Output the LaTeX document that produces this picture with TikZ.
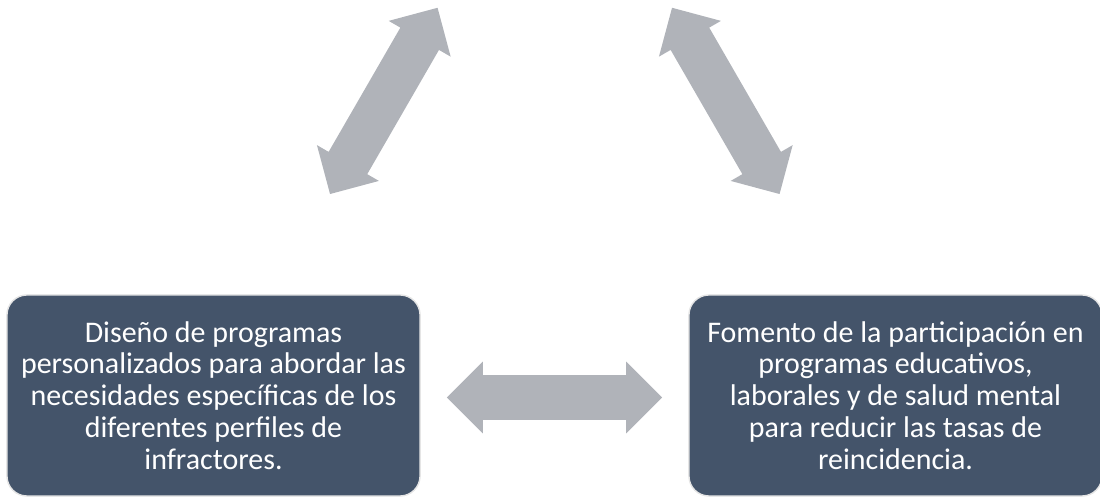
\documentclass[tikz,border=0pt]{standalone}
\usepackage{fontspec}
\setmainfont{Carlito}
\usetikzlibrary{shapes.arrows}
\definecolor{boxblue}{HTML}{44546A}
\definecolor{arrowgray}{HTML}{B0B3B9}
\tikzset{box/.style = {draw=gray!20, line width=1pt, fill=boxblue, rounded corners=0.5cm,
    minimum width=10.325cm, minimum height=5.025cm, inner sep=0pt,
    text=white, align=center, font={\fontsize{21.3}{22.6}\selectfont}}}
\tikzset{twoway/.style = {double arrow, draw=none, fill=arrowgray,
    inner xsep=0pt, inner ysep=0.55cm, minimum height=5.375cm,
    double arrow head extend=0.3375cm, double arrow tip angle=90}}

\begin{document}
\begin{tikzpicture}[x=0.025cm,y=-0.025cm]
    % Page size
    \useasboundingbox (0,0) rectangle (1100,497);

    % Boxes
    \node[box] (design) at (213.5,395.5)
        {Diseño de programas\\personalizados para abordar las\\necesidades específicas de los\\diferentes perfiles de\\infractores.};
    \node[box] (promote) at (895.5,395.5)
        {Fomento de la participación en\\programas educativos,\\laborales y de salud mental\\para reducir las tasas de\\reincidencia.};

    % Two-way arrows
    \node[twoway] (arrowleft) at (383.8,100.9) [rotate=60] {};
    \node[twoway] (arrowright) at (725.8,100.9) [rotate=-60] {};
    \node[twoway] (arrowbottom) at (554.5,397.5) {};

\end{tikzpicture}
\end{document}
